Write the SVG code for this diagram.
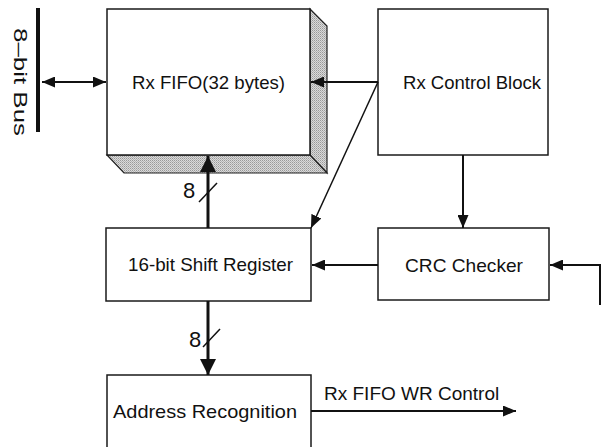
<svg xmlns="http://www.w3.org/2000/svg" width="605" height="447" viewBox="0 0 605 447">
<style>
.box{fill:#fff;stroke:#1a1a1a;stroke-width:1.5}
.lbl{font-family:"Liberation Sans",Arial,sans-serif;font-size:19px;fill:#111}
.num{font-family:"Liberation Sans",Arial,sans-serif;font-size:22px;fill:#111}
.ln{fill:none;stroke:#111;stroke-width:2}
.thick{fill:none;stroke:#111;stroke-width:3}
.thin{fill:none;stroke:#111;stroke-width:1.5}
</style>
<defs>
<pattern id="stip" width="2" height="2" patternUnits="userSpaceOnUse">
<rect width="2" height="2" fill="#dadada"/>
<rect width="1" height="1" fill="#999"/>
<rect x="1" y="1" width="1" height="1" fill="#b4b4b4"/>
</pattern>
<marker id="ah" viewBox="0 0 13 11" refX="13" refY="5.5" markerWidth="13" markerHeight="11" markerUnits="userSpaceOnUse" orient="auto-start-reverse">
<path d="M0,0 L13,5.5 L0,11 Z" fill="#111"/>
</marker>
<marker id="ahb" viewBox="0 0 16 16" refX="16" refY="8" markerWidth="16" markerHeight="16" markerUnits="userSpaceOnUse" orient="auto">
<path d="M0,0 L16,8 L0,16 Z" fill="#111"/>
</marker>
</defs>

<g id="bus">
<line x1="38" y1="8" x2="38" y2="132" stroke="#111" stroke-width="4"/>
<text class="lbl" transform="translate(14,28) rotate(90)" font-size="17" textLength="108" lengthAdjust="spacingAndGlyphs">8–bit Bus</text>
</g>

<g id="rx-fifo">
<polygon points="310,9 327,26 327,173 310,155" fill="url(#stip)" stroke="#222" stroke-width="1.2"/>
<polygon points="107,155 310,155 327,173 124,173" fill="url(#stip)" stroke="#222" stroke-width="1.2"/>
<rect class="box" x="107" y="9" width="203" height="146"/>
<text class="lbl" x="132" y="89" textLength="153" lengthAdjust="spacingAndGlyphs">Rx FIFO(32 bytes)</text>
</g>

<g id="rx-control">
<rect class="box" x="378" y="9" width="170" height="146"/>
<text class="lbl" x="403" y="89" textLength="138" lengthAdjust="spacingAndGlyphs">Rx Control Block</text>
</g>

<g id="shift-register">
<rect class="box" x="106" y="228" width="205" height="73"/>
<text class="lbl" x="128" y="271" textLength="165" lengthAdjust="spacingAndGlyphs">16-bit Shift Register</text>
</g>

<g id="crc-checker">
<rect class="box" x="378" y="228" width="171" height="72"/>
<text class="lbl" x="405" y="272" textLength="118" lengthAdjust="spacingAndGlyphs">CRC Checker</text>
</g>

<g id="address-recognition">
<rect class="box" x="107" y="375" width="204" height="80"/>
<text class="lbl" x="113" y="418" textLength="184" lengthAdjust="spacingAndGlyphs">Address Recognition</text>
</g>

<g id="connectors">
<line class="ln" x1="42" y1="82" x2="106" y2="82" marker-start="url(#ah)" marker-end="url(#ah)"/>
<line class="ln" x1="378" y1="82" x2="311" y2="82" marker-end="url(#ah)"/>
<line class="thin" x1="378" y1="82" x2="311" y2="228" marker-end="url(#ah)"/>
<line class="ln" x1="463" y1="155" x2="463" y2="228" marker-end="url(#ah)"/>
<line class="ln" x1="378" y1="265" x2="312" y2="265" marker-end="url(#ah)"/>
<polyline class="ln" points="600,305 600,265 550,265" marker-end="url(#ah)"/>
<line class="thick" x1="208" y1="228" x2="208" y2="156" marker-end="url(#ahb)"/>
<line class="thin" x1="199" y1="202" x2="217" y2="183"/>
<text class="num" x="183" y="198">8</text>
<line class="thick" x1="208" y1="301" x2="208" y2="375" marker-end="url(#ahb)"/>
<line class="thin" x1="203" y1="347" x2="220" y2="329"/>
<text class="num" x="189" y="347">8</text>
<line class="ln" x1="311" y1="411" x2="516" y2="411" marker-end="url(#ah)"/>
<text class="lbl" x="324" y="400" font-size="18.5">Rx FIFO WR Control</text>
</g>
</svg>
